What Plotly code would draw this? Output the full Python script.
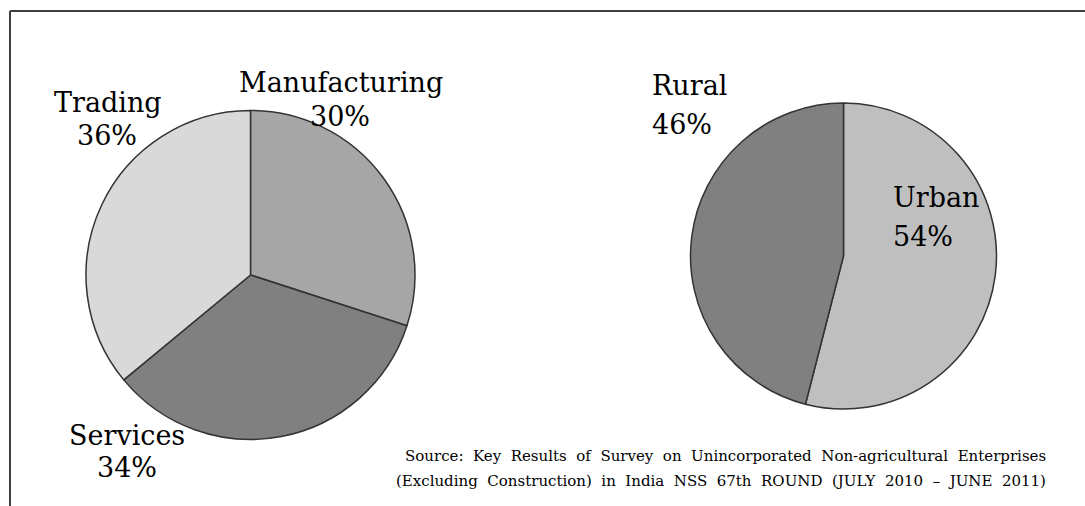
import plotly.graph_objects as go

sector_labels = ["Manufacturing", "Services", "Trading"]
sector_values = [30, 34, 36]
sector_colors = ["#a6a6a6", "#808080", "#d9d9d9"]

area_labels = ["Urban", "Rural"]
area_values = [54, 46]
area_colors = ["#bfbfbf", "#808080"]

source_lines = [
    "Source: Key Results of Survey on Unincorporated Non-agricultural Enterprises",
    "(Excluding Construction) in India NSS 67th ROUND (JULY 2010 \u2013 JUNE 2011)",
]

W, H = 1085, 506
FONT = "DejaVu Serif"

def px(x):
    return x / W

def py(y):
    return 1 - y / H

fig = go.Figure()
fig.add_trace(go.Pie(
    labels=sector_labels, values=sector_values, sort=False, direction="clockwise",
    rotation=0, textinfo="none", hoverinfo="label+percent",
    marker=dict(colors=sector_colors, line=dict(color="#333333", width=1.5)),
    domain=dict(x=[px(86), px(415)], y=[py(440), py(110)]),
    showlegend=False,
))
fig.add_trace(go.Pie(
    labels=area_labels, values=area_values, sort=False, direction="clockwise",
    rotation=0, textinfo="none", hoverinfo="label+percent",
    marker=dict(colors=area_colors, line=dict(color="#333333", width=1.5)),
    domain=dict(x=[px(690), px(997)], y=[py(409), py(103)]),
    showlegend=False,
))

def pct(vals, i):
    return f"{round(100 * vals[i] / sum(vals))}%"

annots = []
def lab(text, x, y, anchor="center", size=27):
    annots.append(dict(text=text, x=px(x), y=py(y), xref="paper", yref="paper",
                       xanchor=anchor, yanchor="middle", showarrow=False,
                       font=dict(family=FONT, size=size, color="#000000")))

# left pie labels
lab(sector_labels[0], 341, 83)
lab(pct(sector_values, 0), 340, 116)
lab(sector_labels[2], 108, 103)
lab(pct(sector_values, 2), 107, 135)
lab(sector_labels[1], 127, 435)
lab(pct(sector_values, 1), 127, 467)
# right pie labels
lab(area_labels[1], 650, 85, anchor="left")
lab(pct(area_values, 1), 650, 124, anchor="left")
lab(area_labels[0], 891, 198, anchor="left")
lab(pct(area_values, 0), 891, 237, anchor="left")

# justified source note (extra non-breaking space in each gap)
for i, line in enumerate(source_lines):
    spaced = line.replace(" ", " \u00a0")
    annots.append(dict(text=spaced, x=px(1048), y=py(456 + 25 * i), xref="paper", yref="paper",
                       xanchor="right", yanchor="middle", showarrow=False,
                       font=dict(family=FONT, size=15, color="#000000")))

fig.update_layout(
    width=W, height=H, margin=dict(l=0, r=0, t=0, b=0),
    paper_bgcolor="white", plot_bgcolor="white",
    annotations=annots,
    shapes=[
        dict(type="line", xref="paper", yref="paper", x0=px(10), x1=1, y0=py(11), y1=py(11),
             line=dict(color="#404040", width=2)),
        dict(type="line", xref="paper", yref="paper", x0=px(10), x1=px(10), y0=py(11), y1=0,
             line=dict(color="#404040", width=2)),
    ],
)
fig.write_html("out.html")
